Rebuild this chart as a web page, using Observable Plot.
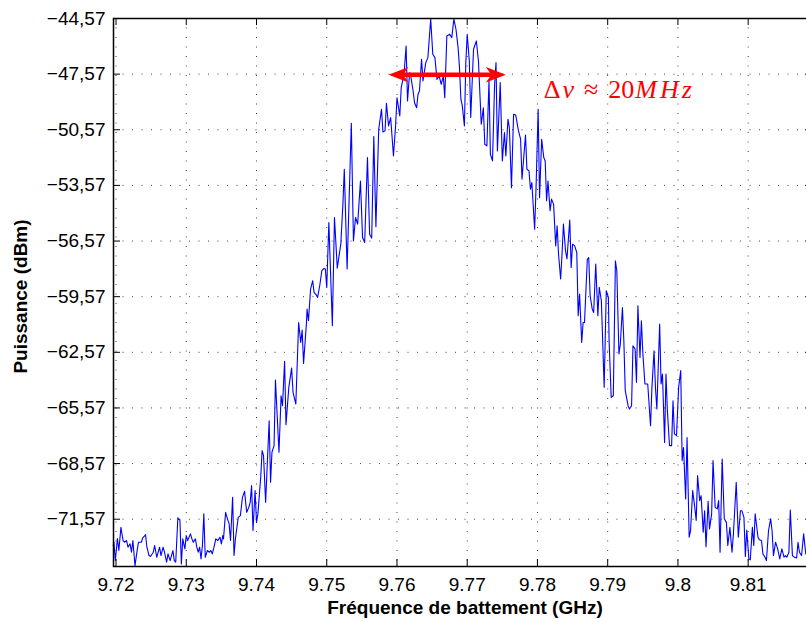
<!DOCTYPE html>
<html><head><meta charset="utf-8">
<script src="https://cdn.jsdelivr.net/npm/d3@7"></script>
<script src="https://cdn.jsdelivr.net/npm/@observablehq/plot@0.6"></script>
<style>
html,body{margin:0;padding:0;background:#fff;overflow:hidden;}
</style>
</head><body><div id="chart"></div>
<script>
// Beat frequency (GHz)
const freq = [
9.7196,9.7197,9.7199,9.7202,9.7204,9.7207,9.7210,9.7212,9.7215,9.7217,9.7220,9.7222,9.7224,9.7227,9.7230,9.7232,9.7236,9.7238,9.7241,9.7242,
9.7244,9.7247,9.7249,9.7253,9.7255,9.7258,9.7260,9.7262,9.7264,9.7267,9.7269,9.7272,9.7274,9.7277,9.7279,9.7281,9.7283,9.7285,9.7288,9.7291,
9.7293,9.7295,9.7298,9.7300,9.7302,9.7306,9.7308,9.7310,9.7313,9.7315,9.7317,9.7319,9.7321,9.7323,9.7325,9.7327,9.7330,9.7333,9.7335,9.7337,
9.7340,9.7342,9.7345,9.7348,9.7350,9.7352,9.7353,9.7356,9.7358,9.7361,9.7363,9.7366,9.7368,
9.7370,9.7374,9.7377,9.7380,9.7383,9.7386,9.7389,9.7391,9.7393,9.7395,9.7398,9.7400,9.7402,9.7406,9.7408,9.7410,9.7413,9.7418,9.7420,9.7422,
9.7425,9.7427,9.7432,9.7435,9.7437,9.7440,9.7442,9.7446,9.7450,9.7452,9.7456,9.7460,9.7463,9.7465,9.7467,9.7471,9.7472,9.7474,9.7477,9.7480,
9.7482,9.7485,9.7487,9.7490,9.7493,9.7496,9.7498,9.7500,9.7503,9.7508,9.7511,9.7515,9.7520,9.7523,9.7525,9.7529,9.7535,9.7538,9.7541,9.7544,
9.7548,9.7551,9.7554,9.7558,9.7561,9.7564,9.7567,9.7570,9.7574,9.7578,9.7580,9.7583,9.7585,9.7588,9.7591,9.7595,9.7598,9.7600,9.7604,9.7606,
9.7610,9.7613,9.7615,9.7618,9.7620,9.7623,9.7625,9.7628,9.7630,9.7632,9.7635,9.7637,9.7641,9.7644,9.7648,9.7651,9.7654,9.7657,9.7660,9.7663,
9.7666,9.7668,9.7671,9.7675,9.7678,9.7681,9.7684,9.7687,9.7689,9.7691,9.7693,9.7696,9.7698,9.7700,9.7703,9.7705,9.7709,9.7713,9.7716,9.7720,
9.7723,9.7725,9.7728,9.7731,9.7733,9.7736,9.7739,9.7741,9.7743,9.7747,9.7750,9.7753,9.7755,9.7758,9.7760,9.7763,9.7766,9.7769,9.7773,9.7776,
9.7778,9.7783,9.7785,9.7788,9.7790,9.7792,9.7796,9.7798,9.7801,9.7803,9.7806,9.7809,9.7811,9.7813,9.7815,9.7818,9.7820,9.7823,9.7826,9.7828,
9.7830,9.7833,9.7835,9.7837,9.7840,9.7842,9.7846,9.7848,9.7850,9.7853,9.7856,9.7858,9.7860,9.7863,9.7865,9.7867,9.7871,9.7873,9.7875,9.7878,
9.7880,9.7883,9.7886,9.7888,9.7891,9.7895,9.7898,9.7901,9.7902,9.7905,9.7908,9.7911,9.7913,9.7916,9.7918,9.7921,9.7923,9.7925,9.7929,9.7931,
9.7934,9.7936,9.7939,9.7941,9.7943,9.7946,9.7948,9.7950,9.7953,9.7957,9.7961,9.7963,9.7966,9.7968,9.7970,9.7974,9.7976,9.7978,9.7981,9.7983,
9.7985,9.7988,9.7991,9.7993,9.7995,9.7998,9.8001,9.8004,9.8006,9.8008,9.8011,9.8013,9.8016,9.8018,9.8021,9.8024,9.8026,9.8028,9.8031,9.8033,
9.8036,9.8038,9.8040,9.8043,9.8045,9.8048,9.8050,9.8053,9.8056,9.8058,9.8060,9.8063,9.8066,9.8069,9.8071,9.8074,9.8077,9.8079,9.8083,9.8086,
9.8089,9.8091,9.8094,9.8096,9.8098,9.8101,9.8103,9.8106,9.8108,9.8110,9.8114,9.8116,9.8119,9.8121,9.8124,9.8126,9.8129,9.8132,9.8134,9.8136,
9.8139,9.8142,9.8145,9.8148,9.8151,9.8153,9.8155,9.8158,9.8160,9.8163,9.8166,9.8169,9.8171,9.8173,9.8176,9.8179,9.8182
];
// Power (dBm)
const power = [
-72.99,-72.81,-73.80,-72.61,-73.26,-72.01,-72.72,-72.81,-72.72,-73.08,-72.90,-73.35,-72.72,-74.07,-73.26,-72.81,-72.81,-72.58,-72.45,-72.40,
-73.08,-73.53,-73.58,-73.35,-72.99,-73.62,-73.35,-73.08,-73.53,-73.08,-73.35,-73.89,-73.44,-73.80,-73.53,-73.26,-73.80,-73.89,-71.50,-71.64,
-73.98,-72.63,-73.17,-72.45,-72.72,-72.36,-72.63,-72.81,-72.63,-73.08,-73.35,-73.08,-73.71,-72.99,-71.28,-73.62,-73.26,-73.35,-73.26,-73.44,
-72.99,-72.63,-72.72,-72.54,-72.90,-72.45,-72.63,-71.20,-71.47,-71.82,-72.72,-70.39,-73.53,
-72.61,-71.47,-71.38,-70.39,-70.07,-71.20,-70.93,-70.66,-69.76,-72.18,-70.03,-71.74,-71.28,-69.31,-67.87,-68.14,-70.66,-66.26,-69.58,-67.96,
-67.60,-64.06,-67.96,-64.91,-65.45,-63.06,-66.47,-64.46,-63.42,-64.73,-65.36,-60.96,-62.04,-61.37,-63.17,-61.05,-60.24,-60.87,-59.16,-58.71,
-59.34,-59.47,-59.61,-58.98,-58.17,-58.05,-58.08,-59.07,-55.57,-61.14,-55.30,-58.03,-56.74,-54.58,-52.70,-58.08,-50.22,-56.56,-55.30,-55.66,
-53.33,-56.38,-56.65,-52.07,-56.20,-56.41,-50.94,-55.80,-50.54,-49.46,-50.69,-50.63,-49.14,-50.36,-49.91,-51.98,-50.36,-48.84,-49.82,-48.30,
-47.58,-46.05,-49.02,-47.49,-47.76,-48.48,-49.11,-49.38,-48.65,-48.48,-46.77,-47.94,-46.95,-46.68,-44.60,-46.50,-46.68,-47.85,-47.67,-48.12,
-47.67,-48.84,-45.51,-45.42,-45.60,-44.60,-45.15,-46.14,-47.22,-48.92,-49.28,-50.36,-46.95,-45.42,-46.86,-49.91,-46.23,-45.78,-46.86,-50.27,
-49.38,-51.35,-51.44,-47.94,-51.89,-52.25,-48.12,-46.95,-51.71,-48.03,-52.25,-50.72,-51.98,-50.00,-50.45,-53.69,-49.73,-49.77,-50.63,-51.08,
-53.23,-50.85,-52.70,-52.79,-53.77,-53.42,-55.93,-53.69,-49.46,-54.23,-51.08,-52.07,-52.25,-54.40,-53.33,-54.94,-54.31,-54.58,-56.83,-55.75,
-57.27,-58.62,-57.27,-55.66,-57.10,-57.54,-55.44,-58.00,-56.74,-56.83,-57.19,-60.60,-59.43,-62.04,-60.96,-60.96,-57.54,-57.46,-59.52,-60.24,
-60.42,-57.81,-60.60,-59.07,-59.79,-64.46,-59.25,-59.61,-61.95,-65.00,-64.91,-57.64,-58.17,-62.66,-62.12,-60.15,-61.95,-64.64,-65.45,-65.63,
-65.45,-62.22,-62.39,-64.19,-60.06,-62.85,-60.87,-62.58,-64.28,-64.28,-66.53,-64.46,-62.49,-64.46,-65.63,-61.05,-64.28,-63.74,-67.43,-63.74,
-65.72,-67.60,-67.60,-65.18,-66.97,-67.06,-64.46,-63.56,-68.41,-67.70,-70.48,-67.16,-72.54,-72.18,-70.03,-70.93,-71.64,-69.22,-70.57,-70.30,
-72.27,-71.11,-73.05,-70.60,-72.09,-71.28,-68.41,-70.93,-71.01,-70.57,-73.35,-68.32,-71.55,-71.74,-72.99,-72.01,-73.35,-72.36,-69.58,-72.54,
-71.11,-71.11,-71.47,-73.58,-72.15,-73.71,-73.76,-72.01,-72.99,-71.28,-72.54,-72.68,-72.72,-73.44,-73.62,-73.80,-72.18,-71.55,-72.18,-73.53,
-72.81,-73.17,-73.71,-73.17,-73.62,-73.53,-73.62,-73.35,-71.07,-73.53,-73.62,-73.66,-72.81,-73.35,-73.53,-72.36,-73.44
];
const xTicks = [9.72, 9.73, 9.74, 9.75, 9.76, 9.77, 9.78, 9.79, 9.8, 9.81];
const yTicks = [-44.57, -47.57, -50.57, -53.57, -56.57, -59.57, -62.57, -65.57, -68.57, -71.57];
const xLabel = "Fréquence de battement (GHz)";
const yLabel = "Puissance (dBm)";
const arrowEnds = [9.7588, 9.7755];
const arrowLevel = -47.6;
const note = "Δν ≈ 20MHz";
const notePos = [9.7809, -48.84];

const data = freq.map((f, i) => ({f, p: power[i]}));
const heads = [{x: arrowEnds[0], rot: 180}, {x: arrowEnds[1], rot: 0}];
const shaft = [{x1: arrowEnds[0] + 0.0014, x2: arrowEnds[1] - 0.0014}];

// barbed arrow head, tip at origin, pointing +x
const arrowHead = {
  draw(ctx, size) {
    const r = Math.sqrt(size / Math.PI);
    ctx.moveTo(0, 0);
    ctx.lineTo(-2 * r, -0.78 * r);
    ctx.lineTo(-1.45 * r, 0);
    ctx.lineTo(-2 * r, 0.78 * r);
    ctx.closePath();
  }
};

const fmtY = d => d.toFixed(2).replace(".", ",").replace("-", "\u2212");
const fmtX = d => String(+d.toFixed(2));

const W = 812, H = 622, ML = 113, MT = 18, MB = 56;
const innerW = W - ML, innerH = H - MT - MB;

const chart = Plot.plot({
  width: W, height: H,
  marginLeft: ML, marginRight: 0, marginTop: MT, marginBottom: MB,
  style: {fontFamily: "'Liberation Sans', Arial, sans-serif", fontSize: "19px", background: "#fff", maxWidth: "none", overflow: "visible"},
  x: {domain: [9.71964, 9.81916]},
  y: {domain: [-74.12, -44.57]},
  marks: [
    Plot.gridX({ticks: xTicks, stroke: "#000", strokeOpacity: 0.75, strokeDasharray: "1,8.5"}),
    Plot.gridY({ticks: yTicks, stroke: "#000", strokeOpacity: 0.75, strokeDasharray: "1,8.5"}),
    Plot.line(data, {x: "f", y: "p", stroke: "#0000ff", strokeWidth: 1.1}),
    Plot.tickX(xTicks, {x: d => d, insetTop: innerH - 7, stroke: "#000"}),
    Plot.tickX(xTicks, {x: d => d, insetBottom: innerH - 7, stroke: "#000"}),
    Plot.tickY(yTicks, {y: d => d, insetRight: innerW - 7, stroke: "#000"}),
    Plot.tickY(yTicks, {y: d => d, insetLeft: innerW - 7, stroke: "#000"}),
    Plot.frame({stroke: "#000", strokeWidth: 1.5}),
    Plot.axisX({ticks: xTicks, tickSize: 0, tickPadding: 11, tickFormat: fmtX, label: null, fontSize: 19, style: {letterSpacing: "0.3px"}}),
    Plot.axisY({ticks: yTicks, tickSize: 0, tickPadding: 8, tickFormat: fmtY, label: null, fontSize: 19, style: {letterSpacing: "0.5px"}}),
    Plot.text([xLabel], {frameAnchor: "bottom", dx: 2, dy: 47.5, lineAnchor: "bottom", fontWeight: "bold", fontSize: 19}),
    Plot.text([yLabel], {frameAnchor: "left", textAnchor: "middle", rotate: -90, dx: -93, dy: 4, fontWeight: "bold", fontSize: 19}),
    Plot.link(shaft, {x1: "x1", x2: "x2", y1: () => arrowLevel, y2: () => arrowLevel, stroke: "#ff0000", strokeWidth: 4.5}),
    Plot.dot(heads, {x: "x", y: () => arrowLevel, rotate: "rot", symbol: arrowHead, r: 10, fill: "#ff0000", stroke: "none"}),
    Plot.text([note], {x: () => notePos[0], y: () => notePos[1], textAnchor: "start", lineAnchor: "bottom", fill: "#ff0000", fontSize: 26, fontFamily: "'Liberation Serif', 'Times New Roman', serif"})
  ]
});
document.getElementById("chart").appendChild(chart);

// typeset the annotation like math: italic symbols, upright numbers
d3.select(chart).selectAll("text").filter(function() { return this.textContent === note; }).each(function() {
  const t = d3.select(this);
  t.text(null);
  const parts = [["Δ", "normal", 0], ["ν", "italic", 2], ["≈", "normal", 10], ["20", "normal", 10], ["M", "italic", 1], ["H", "italic", 3], ["z", "italic", 3]];
  for (const [s, st, dx] of parts) t.append("tspan").attr("font-style", st).attr("dx", dx).text(s);
});
</script>
</body></html>
